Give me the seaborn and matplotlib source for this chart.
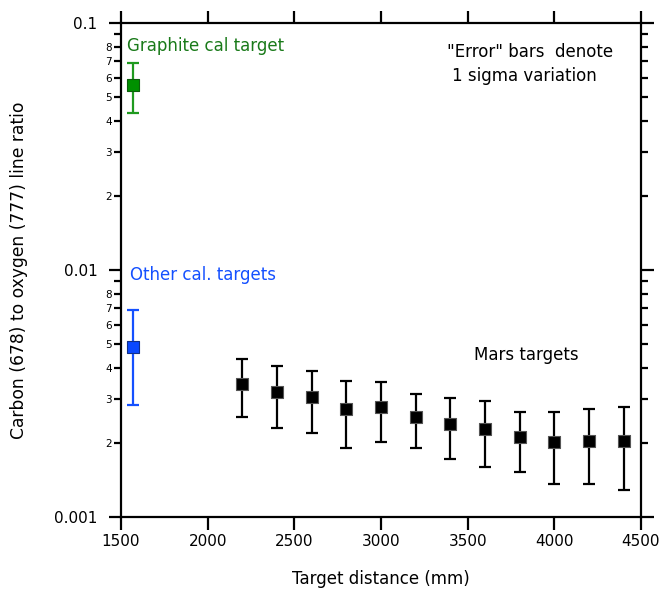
import numpy as np
import pandas as pd
import matplotlib
matplotlib.use("Agg")
import matplotlib.pyplot as plt
import seaborn as sns
from matplotlib.ticker import LogLocator, FuncFormatter, FixedLocator

# Calibration targets
graphite_x = [1570]
graphite_y = [0.0559]
graphite_lo = [0.0432]
graphite_hi = [0.0689]

other_x = [1570]
other_y = [0.00489]
other_lo = [0.00285]
other_hi = [0.00689]

# Mars targets by stand-off distance
mars_x = [2200, 2400, 2600, 2800, 3000, 3200, 3400, 3600, 3800, 4000, 4200, 4400]
mars_y = [0.00346, 0.00320, 0.00305, 0.00273, 0.00278, 0.00253, 0.00238, 0.00227,
          0.00210, 0.00201, 0.00204, 0.00203]
mars_lo = [0.00254, 0.00230, 0.00218, 0.00190, 0.00201, 0.00190, 0.00172, 0.00159,
           0.00152, 0.00136, 0.00136, 0.00129]
mars_hi = [0.00438, 0.00409, 0.00390, 0.00355, 0.00353, 0.00315, 0.00303, 0.00296,
           0.00267, 0.00266, 0.00273, 0.00278]

x_ticks = [1500, 2000, 2500, 3000, 3500, 4000, 4500]
y_major = [0.001, 0.01, 0.1]
y_major_labels = ["0.001", "0.01", "0.1"]

sns.set_theme(style="white")
plt.rcParams["font.family"] = ["DejaVu Sans"]

fig = plt.figure(figsize=(6.66, 5.90), dpi=100)
ax = fig.add_axes([121 / 666, 1 - 517 / 590, 520 / 666, 494 / 590])

groups = [
    (graphite_x, graphite_y, graphite_lo, graphite_hi, "#1f9a1f", "#009000", "#0b5e0b"),
    (other_x, other_y, other_lo, other_hi, "#1450ff", "#0a48ff", "#10308a"),
    (mars_x, mars_y, mars_lo, mars_hi, "black", "black", "#555555"),
]

for xs, ys, lo, hi, ecol, fcol, edge in groups:
    ys_a = np.array(ys)
    yerr = np.vstack([ys_a - np.array(lo), np.array(hi) - ys_a])
    ax.errorbar(xs, ys, yerr=yerr, fmt="none", ecolor=ecol, elinewidth=1.6,
                capsize=4.5, capthick=1.6, zorder=2)
    df = pd.DataFrame({"x": xs, "y": ys})
    sns.scatterplot(data=df, x="x", y="y", ax=ax, marker="s", s=85,
                    color=fcol, edgecolor=edge, linewidth=0.8, zorder=3, legend=False)

ax.set_yscale("log")
ax.set_xlim(1500, 4500)
ax.set_ylim(0.001, 0.1)

ax.xaxis.set_major_locator(FixedLocator(x_ticks))
ax.set_xticklabels([str(t) for t in x_ticks])
ax.yaxis.set_major_locator(FixedLocator(y_major))
ax.yaxis.set_major_formatter(FuncFormatter(
    lambda v, p: y_major_labels[int(round(np.log10(v))) + 3]))
ax.yaxis.set_minor_locator(LogLocator(base=10, subs=np.arange(2, 10)))


def minor_fmt(v, pos):
    m = int(round(v / 10 ** np.floor(np.log10(v) + 1e-9)))
    return str(m) if 2 <= m <= 8 else ""


ax.yaxis.set_minor_formatter(FuncFormatter(minor_fmt))

for s in ax.spines.values():
    s.set_visible(True)
    s.set_color("black")
    s.set_linewidth(1.6)

ax.tick_params(axis="both", which="major", direction="out", length=9, width=1.6,
               color="black", labelcolor="black", labelsize=11)
ax.tick_params(axis="x", which="major", top=True, bottom=True, labeltop=False, pad=3)
ax.tick_params(axis="y", which="major", left=True, right=True, labelright=False, pad=8)
ax.tick_params(axis="y", which="minor", direction="out", length=5, width=1.6,
               left=True, right=True, labelright=False, labelsize=7.5, pad=1.5,
               color="black", labelcolor="black")

ax.set_xlabel("Target distance (mm)", fontsize=12, color="black", labelpad=15)
ax.set_ylabel("Carbon (678) to oxygen (777) line ratio", fontsize=12.3, color="black",
              labelpad=19)

ax.text(1535, 0.0808, "Graphite cal target", color="#1a7a1a", fontsize=12, va="center")
ax.text(1552, 0.00954, "Other cal. targets", color="#1450ff", fontsize=12, va="center")
ax.text(3381, 0.0763, "\"Error\" bars  denote", color="black", fontsize=12, va="center")
ax.text(3410, 0.0610, "1 sigma variation", color="black", fontsize=12, va="center")
ax.text(3537, 0.00453, "Mars targets", color="black", fontsize=12, va="center")

ax.grid(False)
fig.savefig("out.png", dpi=100, facecolor="white")
